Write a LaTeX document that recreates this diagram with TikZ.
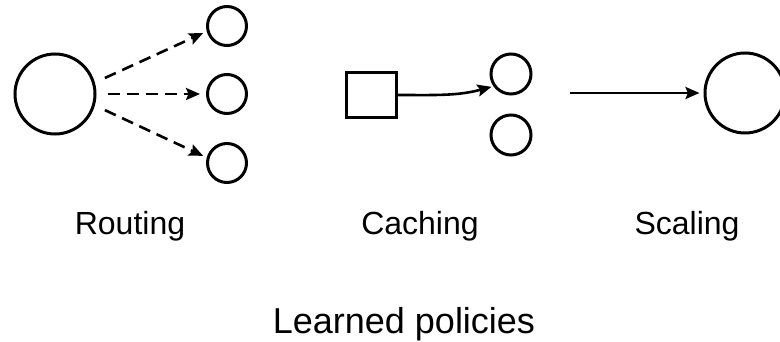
\documentclass[tikz,border=0pt]{standalone}
\usepackage{fontspec}
\setmainfont{Liberation Sans}
\usetikzlibrary{arrows.meta}
\begin{document}
\begin{tikzpicture}[x=1pt,y=-1pt,
  ring/.style={circle,draw,line width=3pt,inner sep=0pt,minimum size=#1},
  box/.style={rectangle,draw,line width=3pt,inner sep=0pt,minimum width=50pt,minimum height=45pt},
  link/.style={line width=2.6pt,-{Stealth[length=14pt,width=12pt,inset=2.5pt]}},
  dashlink/.style={link,dash pattern=on 12pt off 7pt},
  lbl/.style={font=\fontsize{32}{38}\selectfont,anchor=base},
  title/.style={font=\fontsize{36}{42}\selectfont,anchor=base},
]
\useasboundingbox (0,0) rectangle (780,342);

% Routing: one source fanning out to three targets
\node[ring=80pt] (hub) at (55,94) {};
\node[ring=39pt] (r1) at (227,26) {};
\node[ring=39pt] (r2) at (227,94) {};
\node[ring=39pt] (r3) at (227,163) {};
\draw[dashlink, shorten <=11pt, shorten >=4pt] (hub.16) -- (r1.195);
\draw[dashlink, shorten <=11pt, shorten >=6pt] (hub.east) -- (r2.west);
\draw[dashlink, shorten <=11pt, shorten >=4pt] (hub.-16) -- (r3.165);
\node[lbl] (lroute) at (130,235) {Routing};

% Caching: a store feeding one of two slots
\node[box] (sq) at (371,95) {};
\node[ring=40pt] (c1) at (511,74) {};
\node[ring=40pt] (c2) at (511,135) {};
\draw[link, shorten >=2pt] (sq.east) to[out=0,in=195] (c1.215);
\node[lbl] (lcache) at (420,235) {Caching};

% Scaling: growth into a large unit
\coordinate (s0) at (570,93);
\node[ring=80pt] (big) at (745,93) {};
\draw[link, shorten >=4pt] (s0) -- (big);
\node[lbl] (lscale) at (687,235) {Scaling};

\node[title] (ttl) at (404,333) {Learned policies};
\end{tikzpicture}
\end{document}
